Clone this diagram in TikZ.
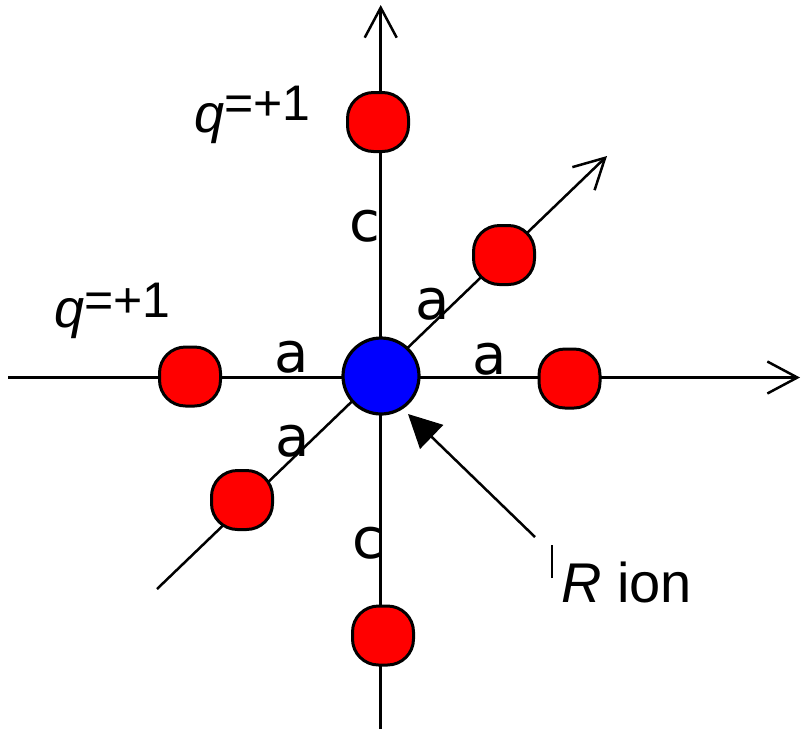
\documentclass[tikz,border=0pt]{standalone}
\usepackage{fontspec}
\setmainfont{Liberation Sans}
\newfontfamily\verd{DejaVu Sans}
\usetikzlibrary{arrows.meta}
\definecolor{ionred}{RGB}{255,0,0}
\definecolor{ionblue}{RGB}{0,0,255}
\begin{document}
\begin{tikzpicture}[x=1pt,y=-1pt,
  axisline/.style={line width=2.5pt,-{Straight Barb[length=30pt,width=32pt]}},
  redion/.style={draw=black,fill=ionred,line width=3pt,rounded corners=26pt,
    minimum width=61pt,minimum height=59pt,inner sep=0pt},
  blueion/.style={draw=black,fill=ionblue,line width=3.2pt,circle,minimum size=76pt,inner sep=0pt},
  lab/.style={font=\verd\fontsize{56}{60}\selectfont,inner sep=0pt},
  qlab/.style={font=\fontsize{54}{60}\selectfont,inner sep=0pt,anchor=base west},
  pointer/.style={line width=2.5pt,-{Triangle[length=33pt,width=33pt]}}
]
\useasboundingbox (0,0) rectangle (802,729);
% axis end points
\coordinate (ytop) at (380.7,5);
\coordinate (ybot) at (380.7,729);
\coordinate (xleft) at (8,377.5);
\coordinate (xright) at (800,377.5);
\coordinate (dlow) at (157,589);
\coordinate (dhigh) at (607,156);
\draw[axisline] (ybot) -- (ytop);
\draw[axisline] (xleft) -- (xright);
\draw[axisline] (dlow) -- (dhigh);
% ions
\node[blueion] (center) at (381,376) {};
\node[redion] (top) at (378,122) {};
\node[redion] (bottom) at (383,635.5) {};
\node[redion] (left) at (190,376.5) {};
\node[redion] (right) at (569.5,378.5) {};
\node[redion] (dup) at (504,255) {};
\node[redion] (ddown) at (242,500) {};
% labels
\node[lab] (cup) at (365,226) {c};
\node[lab] (cdown) at (368,543) {c};
\node[lab] (adup) at (433,304) {a};
\node[lab] (aleft) at (292,357) {a};
\node[lab] (aright) at (490,359) {a};
\node[lab] (addown) at (293,441) {a};
\node[qlab] (qtop) at (194,132) {\itshape q\upshape\raisebox{12pt}{\fontsize{50}{54}\selectfont =+1}};
\node[qlab] (qleft) at (54,327) {\itshape q\upshape\raisebox{10pt}{\fontsize{50}{54}\selectfont =+1}};
\node[qlab,font=\fontsize{56}{60}\selectfont] (rion) at (551,602) {\rule[24pt]{2pt}{33pt}\hspace{8pt}\textit{R} ion};
% pointer
\coordinate (ptail) at (535,537);
\coordinate (ptip) at (408,414);
\draw[pointer] (ptail) -- (ptip);
\end{tikzpicture}
\end{document}
